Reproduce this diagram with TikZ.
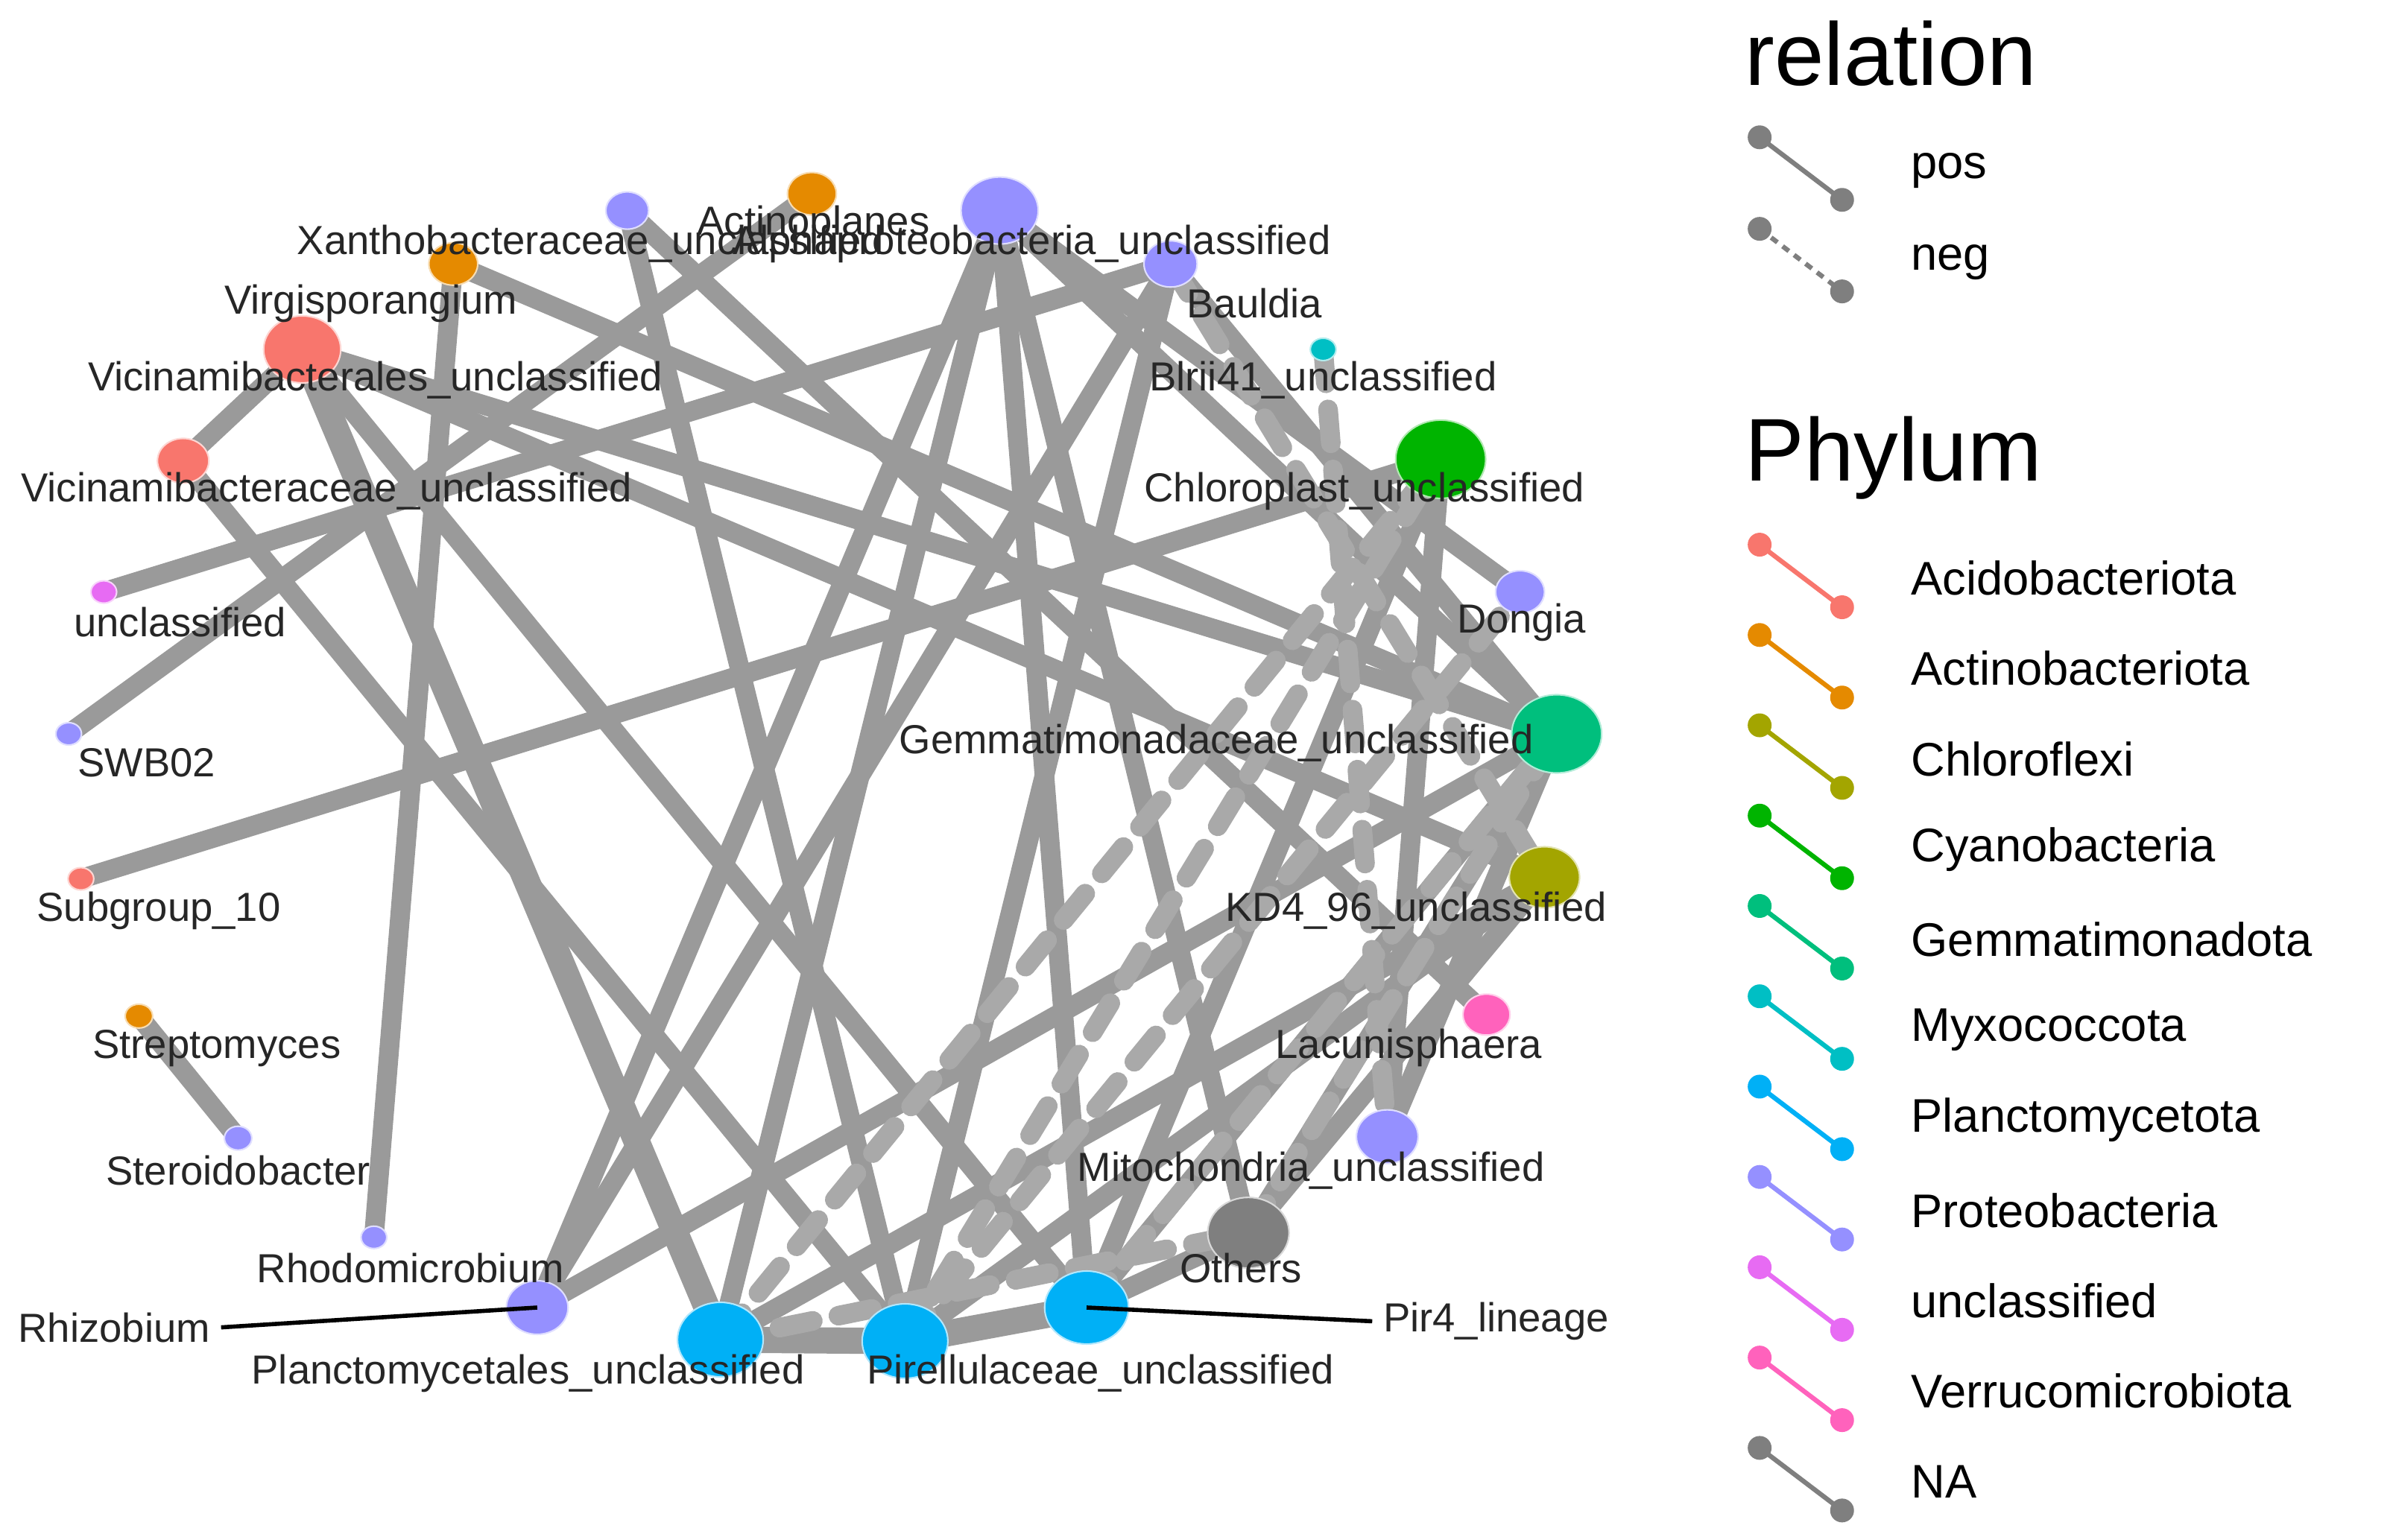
\documentclass[tikz,border=0pt]{standalone}
\usepackage{fontspec}
\setmainfont{Liberation Sans}
\usetikzlibrary{backgrounds,shapes.geometric}
\definecolor{acido}{HTML}{F8766D}
\definecolor{actino}{HTML}{E58A00}
\definecolor{chloro}{HTML}{A3A500}
\definecolor{cyano}{HTML}{00B400}
\definecolor{gemma}{HTML}{00BF7D}
\definecolor{myxo}{HTML}{00BFC4}
\definecolor{planc}{HTML}{00B0F6}
\definecolor{proteo}{HTML}{9590FF}
\definecolor{uncl}{HTML}{E76BF3}
\definecolor{verru}{HTML}{FF62BC}
\definecolor{nacol}{HTML}{7F7F7F}
\definecolor{edge}{HTML}{9A9A9A}
\tikzset{
 nd/.style 2 args={ellipse, fill=#1, draw=white!70!#1, line width=0.6pt, inner sep=0pt, minimum width=#2*1.15cm, minimum height=#2 cm},
 lab/.style={font=\fontsize{15.5}{17}\selectfont, inner sep=0pt, text=black!85},
 e/.style={edge, line width=7.5pt},
 ew/.style={edge, line width=10pt},
 d/.style={edge!85, line width=7.5pt, dash pattern=on 13pt off 10pt, line cap=round},
 leg/.style={line width=1.8pt},
 legdot/.style={circle, inner sep=0pt, minimum size=0.32cm, fill=#1},
 legtxt/.style={font=\fontsize{18}{20}\selectfont, anchor=west, inner sep=0pt},
 title/.style={font=\fontsize{34}{36}\selectfont, anchor=west, inner sep=0pt},
}
\begin{document}
\begin{tikzpicture}[x=0.02048cm,y=-0.02048cm]
\useasboundingbox (0,0) rectangle (1568,1009);
% nodes
\node[nd={proteo}{0.5}] (xan) at (411,138) {};
\node[nd={actino}{0.57}] (act) at (532,127) {};
\node[nd={proteo}{0.9}] (alp) at (655,138) {};
\node[nd={proteo}{0.62}] (bau) at (767,173) {};
\node[nd={myxo}{0.3}] (blr) at (867,229) {};
\node[nd={cyano}{1.05}] (chl) at (944,301) {};
\node[nd={proteo}{0.57}] (don) at (996,388) {};
\node[nd={gemma}{1.05}] (gem) at (1020,481) {};
\node[nd={chloro}{0.82}] (kd4) at (1012,575) {};
\node[nd={verru}{0.55}] (lac) at (974,665) {};
\node[nd={proteo}{0.72}] (mit) at (909,745) {};
\node[nd={nacol}{0.95}] (oth) at (818,808) {};
\node[nd={planc}{0.98}] (pir4) at (712,857) {};
\node[nd={planc}{1.0}] (pire) at (593,879) {};
\node[nd={planc}{1.0}] (plan) at (472,878) {};
\node[nd={proteo}{0.72}] (rhiz) at (352,857) {};
\node[nd={proteo}{0.3}] (rhod) at (245,811) {};
\node[nd={proteo}{0.32}] (ster) at (156,746) {};
\node[nd={actino}{0.32}] (strep) at (91,666) {};
\node[nd={acido}{0.3}] (sub) at (53,576) {};
\node[nd={proteo}{0.3}] (swb) at (45,481) {};
\node[nd={uncl}{0.3}] (unc) at (68,388) {};
\node[nd={acido}{0.6}] (vca) at (120,302) {};
\node[nd={acido}{0.9}] (vle) at (198,229) {};
\node[nd={actino}{0.57}] (vir) at (297,173) {};
\begin{scope}[on background layer]
\draw[e] (vca.center)--(vle.center);
\draw[e] (vca.center)--(pire.center);
\draw[ew] (vle.center)--(plan.center);
\draw[e] (vle.center)--(pir4.center);
\draw[e] (vle.center)--(gem.center);
\draw[e] (vle.center)--(kd4.center);
\draw[e] (vir.center)--(rhod.center);
\draw[e] (vir.center)--(gem.center);
\draw[e] (xan.center)--(pire.center);
\draw[e] (xan.center)--(lac.center);
\draw[e] (act.center)--(swb.center);
\draw[e] (unc.center)--(bau.center);
\draw[e] (sub.center)--(chl.center);
\draw[e] (strep.center)--(ster.center);
\draw[e] (rhiz.center)--(alp.center);
\draw[e] (rhiz.center)--(gem.center);
\draw[e] (rhiz.center)--(bau.center);
\draw[e] (alp.center)--(pir4.center);
\draw[e] (alp.center)--(oth.center);
\draw[e] (alp.center)--(gem.center);
\draw[e] (alp.center)--(don.center);
\draw[e] (alp.center)--(plan.center);
\draw[e] (bau.center)--(pire.center);
\draw[e] (bau.center)--(gem.center);
\draw[e] (chl.center)--(mit.center);
\draw[e] (chl.center)--(pir4.center);
\draw[e] (gem.center)--(pir4.center);
\draw[e] (gem.center)--(oth.center);
\draw[e] (gem.center)--(mit.center);
\draw[e] (kd4.center)--(pire.center);
\draw[e] (kd4.center)--(oth.center);
\draw[ew] (plan.center)--(pire.center);
\draw[ew] (pire.center)--(pir4.center);
\draw[e] (pir4.center)--(oth.center);
\draw[e] (plan.center)--(kd4.center);
\draw[d] (plan.center)--(chl.center);
\draw[d] (pire.center)--(don.center);
\draw[d] (pir4.center)--(gem.center);
\draw[d] (blr.center)--(mit.center);
\draw[d] (plan.center)--(oth.center);
\draw[d] (oth.center)--(gem.center);
\draw[d] (pire.center)--(chl.center);
\draw[d] (bau.center)--(kd4.center);
\end{scope}
% labels
\node[lab] (lxan) at (387,160) {Xanthobacteraceae\_unclassified};
\node[lab] (lact) at (533,147) {Actinoplanes};
\node[lab] (lalp) at (676,160) {Alphaproteobacteria\_unclassified};
\node[lab] (lvir) at (243,199) {Virgisporangium};
\node[lab] (lbau) at (822,199) {Bauldia};
\node[lab] (lvle) at (246,249) {Vicinamibacterales\_unclassified};
\node[lab] (lblr) at (867,249) {Blrii41\_unclassified};
\node[lab] (lvca) at (214,322) {Vicinamibacteraceae\_unclassified};
\node[lab] (lchl) at (894,322) {Chloroplast\_unclassified};
\node[lab] (lunc) at (118,408) {unclassified};
\node[lab] (ldon) at (997,408) {Dongia};
\node[lab] (lswb) at (96,500) {SWB02};
\node[lab] (lgem) at (797,487) {Gemmatimonadaceae\_unclassified};
\node[lab] (lsub) at (104,597) {Subgroup\_10};
\node[lab] (lkd4) at (928,597) {KD4\_96\_unclassified};
\node[lab] (lstrep) at (142,687) {Streptomyces};
\node[lab] (llac) at (923,687) {Lacunisphaera};
\node[lab] (lster) at (156,767) {Steroidobacter};
\node[lab] (lmit) at (859,767) {Mitochondria\_unclassified};
\node[lab] (lrhod) at (269,831) {Rhodomicrobium};
\node[lab] (loth) at (813,831) {Others};
\node[lab,anchor=east] (lrhiz) at (138,870) {Rhizobium};
\node[lab,anchor=west] (lpir4) at (906,866) {Pir4\_lineage};
\node[lab] (lplan) at (346,900) {Planctomycetales\_unclassified};
\node[lab] (lpire) at (721,900) {Pirellulaceae\_unclassified};
\draw[line width=1.6pt] ([xshift=4pt]lrhiz.east) -- (rhiz.center);
\draw[line width=1.6pt] (pir4.center) -- ([xshift=-4pt]lpir4.west);
% legend
\node[title] (trel) at (1143,35) {relation};
\coordinate (p1) at (1153,90); \coordinate (p2) at (1207,131);
\draw[leg,nacol] (p1)--(p2);
\node[legdot=nacol] (pd1) at (p1) {}; \node[legdot=nacol] (pd2) at (p2) {};
\node[legtxt] (tpos) at (1252,112) {pos};
\coordinate (n1) at (1153,150); \coordinate (n2) at (1207,191);
\draw[leg,nacol,dash pattern=on 3pt off 2.5pt] (n1)--(n2);
\node[legdot=nacol] (nd1) at (n1) {}; \node[legdot=nacol] (nd2) at (n2) {};
\node[legtxt] (tneg) at (1252,172) {neg};
\node[title] (tphy) at (1143,300) {Phylum};
\foreach \c/\t [count=\i from 0] in {acido/Acidobacteriota,actino/Actinobacteriota,chloro/Chloroflexi,cyano/Cyanobacteria,gemma/Gemmatimonadota,myxo/Myxococcota,planc/Planctomycetota,proteo/Proteobacteria,uncl/unclassified,verru/Verrucomicrobiota,nacol/NA}{
  \coordinate (a\i) at (1153,357+59.2*\i);
  \coordinate (b\i) at (1207,398+59.2*\i);
  \draw[leg,\c] (a\i)--(b\i);
  \node[legdot=\c] (da\i) at (a\i) {};
  \node[legdot=\c] (db\i) at (b\i) {};
  \node[legtxt] (lt\i) at (1252,379+59.2*\i) {\t};
}
\end{tikzpicture}
\end{document}
